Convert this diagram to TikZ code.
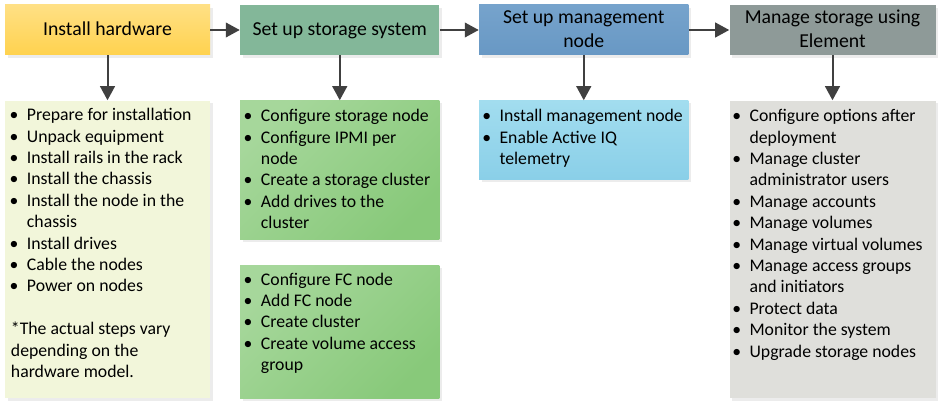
\documentclass[tikz,border=0pt]{standalone}
\usepackage{fontspec}
\setmainfont{Carlito}
\usetikzlibrary{arrows.meta,shadows}
\definecolor{hYa}{HTML}{FFE085}
\definecolor{hYb}{HTML}{FFD24E}
\definecolor{hG}{HTML}{83B799}
\definecolor{hBa}{HTML}{76A3CC}
\definecolor{hBb}{HTML}{6898C4}
\definecolor{hGr}{HTML}{8E9A98}
\definecolor{bY}{HTML}{F2F6DA}
\definecolor{bGa}{HTML}{A6D79B}
\definecolor{bGb}{HTML}{88C97A}
\definecolor{bBa}{HTML}{A2DDEF}
\definecolor{bBb}{HTML}{8ACFE8}
\definecolor{bGy}{HTML}{DFDFDB}
\definecolor{arrc}{HTML}{404040}
\newcommand\bu{\leavevmode\llap{\textbullet\hspace{6.3pt}}}
\newcommand\bodyfont{\fontsize{13.3}{16.05}\selectfont}
\newcommand\headfont{\fontsize{14.8}{17.5}\selectfont}
\tikzset{
  card/.style={rectangle, inner sep=0pt, draw=none,
    drop shadow={shadow xshift=2.2pt, shadow yshift=-2.2pt, fill=black!15, opacity=0.5}},
  headbox/.style={card, minimum height=37.5pt},
  greenbox/.style={card, minimum width=149.6pt, left color=bGa, right color=bGb, shading angle=45},
  txt/.style={inner sep=0pt, anchor=base west, font=\bodyfont},
  htxt/.style={inner sep=0pt, anchor=base, font=\headfont},
  arr/.style={draw=arrc, line width=1.5pt, -{Triangle[length=10.5pt,width=11pt]}},
}
\begin{document}
\begin{tikzpicture}[x=0.75pt,y=-0.75pt]
\useasboundingbox (0,0) rectangle (940,403);
% headers
\node[headbox, minimum width=153.75pt, top color=hYa, bottom color=hYb] (h1) at (107.5,30) {};
\node[headbox, minimum width=149.6pt, fill=hG] (h2) at (339.75,30) {};
\node[headbox, minimum width=157.1pt, top color=hBa, bottom color=hBb] (h3) at (583.75,30) {};
\node[headbox, minimum width=154.5pt, fill=hGr] (h4) at (832.5,30) {};
\node[htxt] (t1) at (107.5,36) {Install hardware};
\node[htxt] (t2) at (339.75,36) {Set up storage system};
\node[htxt] (t3) at (583.75,24) {\parbox[t]{156pt}{\centering Set up management\\node}};
\node[htxt] (t4) at (832.5,24) {\parbox[t]{154pt}{\centering Manage storage using\\Element}};
% bodies
\node[card, minimum width=153.75pt, minimum height=223.1pt, fill=bY] (b1) at (107.5,249.25) {};
\node[greenbox, minimum height=104.25pt] (b2) at (339.75,170) {};
\node[greenbox, minimum height=99.75pt] (b5) at (339.75,331.5) {};
\node[card, minimum width=157.1pt, minimum height=59.25pt, top color=bBa, bottom color=bBb] (b3) at (583.75,140) {};
\node[card, minimum width=154.5pt, minimum height=223.1pt, fill=bGy] (b4) at (832.5,249.25) {};
% body texts
\node[txt] (l1) at (26.7,120.7) {\parbox[t]{170pt}{\raggedright
\bu Prepare for installation\\
\bu Unpack equipment\\
\bu Install rails in the rack\\
\bu Install the chassis\\
\bu Install the node in the\\
chassis\\
\bu Install drives\\
\bu Cable the nodes\\
\bu Power on nodes\\[16.05pt]
\hspace*{-12pt}*The actual steps vary\\
\hspace*{-12pt}depending on the\\
\hspace*{-12pt}hardware model.}};
\node[txt] (l2) at (260.7,121.7) {\parbox[t]{170pt}{\raggedright
\bu Configure storage node\\
\bu Configure IPMI per\\
node\\
\bu Create a storage cluster\\
\bu Add drives to the\\
cluster}};
\node[txt] (l5) at (260.7,285) {\parbox[t]{170pt}{\raggedright
\bu Configure FC node\\
\bu Add FC node\\
\bu Create cluster\\
\bu Create volume access\\
group}};
\node[txt] (l3) at (499.3,121.7) {\parbox[t]{170pt}{\raggedright
\bu Install management node\\
\bu Enable Active IQ\\
telemetry}};
\node[txt] (l4) at (749.3,121.7) {\parbox[t]{170pt}{\raggedright
\bu Configure options after\\
deployment\\
\bu Manage cluster\\
administrator users\\
\bu Manage accounts\\
\bu Manage volumes\\
\bu Manage virtual volumes\\
\bu Manage access groups\\
and initiators\\
\bu Protect data\\
\bu Monitor the system\\
\bu Upgrade storage nodes}};
% arrows
\draw[arr] (h1.east) -- (h2.west);
\draw[arr] (h2.east) -- (h3.west);
\draw[arr] (h3.east) -- (h4.west);
\draw[arr] (h1.south) -- (b1.north);
\draw[arr] (h2.south) -- (b2.north);
\draw[arr] (h3.south) -- (b3.north);
\draw[arr] (h4.south) -- (b4.north);
\end{tikzpicture}
\end{document}
